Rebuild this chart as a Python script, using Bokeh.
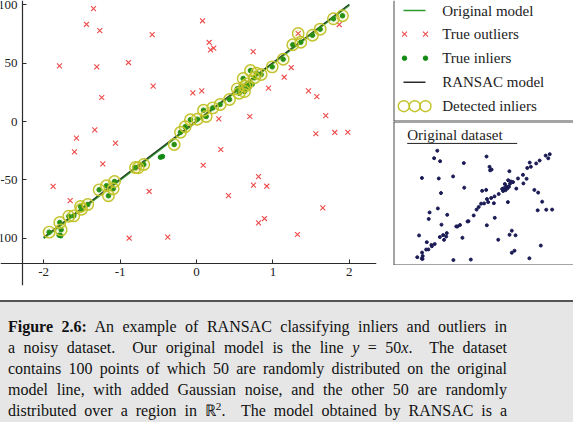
from bokeh.plotting import figure
from bokeh.models import Range1d, LinearAxis, FixedTicker, Span, Div
from bokeh.layouts import row, column
from bokeh.core.properties import value
from bokeh.embed import file_html
from bokeh.resources import INLINE

# --- data -------------------------------------------------------------------
# points drawn uniformly over the region (true outliers)
outlier_x = [-1.348, -1.440, -1.266, -0.580, -1.793, -1.305, -0.890, -0.567, -1.240, -0.048,
             0.069, -1.331, -1.571, 0.079, 0.166, 0.226, 0.183, 0.742, 1.331, 1.868,
             1.240, 1.148, 0.942, 1.466, 1.575, 0.292, 0.698, 1.692, 1.562, 1.810,
             1.980, -1.060, -1.597, -1.226, -1.876, -1.653, -0.619, -0.763, -0.881, -0.376,
             0.318, 0.088, 0.812, 0.746, 0.920, 0.419, 1.653, 0.890, 0.812, 1.322]
outlier_y = [96.9, 83.4, 78.0, 74.6, 47.8, 46.9, 50.6, 30.3, 20.6, 24.6,
             26.3, -7.1, -14.3, 86.4, 67.8, 62.9, 61.5, 60.0, 75.5, 83.2,
             46.3, 38.0, 28.6, 26.3, 21.4, 2.3, 4.3, 5.1, -10.5, -9.4,
             -9.2, -18.6, -26.0, -36.3, -55.7, -67.8, -60.0, -39.7, -100.1, -99.2,
             -24.0, -37.5, -47.2, -54.6, -55.5, -63.5, -74.0, -83.2, -86.9, -96.9]
outlier_detected = [0] * 18 + [1] + [0] * 18 + [1] + [0] * 12

# points on y = 50x with Gaussian noise (true inliers)
inlier_x = [1.911, 1.793, 1.619, 1.518, 1.365, 1.260, 1.135, 0.991, 0.847, 0.785,
            0.707, 0.759, 0.611, 0.664, 0.729, 0.632, 0.533, 0.685, 0.559, 0.628,
            0.576, 0.432, 0.310, 0.213, 0.092, 0.127, 0.009, -0.079, -0.148, -0.209,
            -0.292, -0.445, -0.471, -0.690, -0.798, -1.073, -1.090, -1.178, -1.152, -1.274,
            -1.423, -1.518, -1.505, -1.606, -1.671, -1.789, -1.771, -1.797, -1.776, -1.928]
inlier_y = [90.7, 88.1, 79.2, 74.0, 68.0, 65.8, 53.4, 46.9, 40.3, 41.4,
            43.7, 37.5, 36.9, 32.3, 32.0, 30.3, 28.0, 28.9, 24.3, 25.7,
            29.2, 18.9, 14.6, 11.7, 9.7, 4.3, 2.0, 1.5, -4.5, -9.2,
            -19.7, -30.0, -30.6, -36.9, -39.5, -51.5, -57.7, -55.1, -63.7, -58.6,
            -71.2, -72.9, -75.2, -80.9, -81.2, -86.6, -92.9, -97.5, -98.0, -94.9]
inlier_detected = [1, 1, 1, 1, 1, 1, 1, 1, 1, 1,
                   1, 1, 1, 1, 0, 1, 1, 0, 1, 1,
                   0, 1, 1, 1, 1, 1, 1, 1, 1, 1,
                   1, 0, 0, 1, 1, 1, 1, 1, 1, 1,
                   1, 1, 1, 1, 1, 1, 1, 0, 0, 1]

model_x = [-2.0, 2.0]
model_y = [-100.0, 100.0]
ransac_x = [-2.0, 2.0]
ransac_y = [-99.3, 100.5]

x_ticks = [-2, -1, 0, 1, 2]
y_ticks = [-100, -50, 0, 50, 100]

legend_labels = ["Original model", "True outliers", "True inliers", "RANSAC model", "Detected inliers"]
inset_title = "Original dataset"

# --- styling ------------------------------------------------------------------
SERIF = "Liberation Serif"
RED = "#ef4a4a"
GREEN = "#138a13"
LINE_GREEN = "#2e9a2e"
YELLOW = "#c2c22a"
DARK = "#2b2b2b"
NAVY = "#1b1b55"
BORDER = "#4a4a4a"

det_x = [x for x, d in zip(inlier_x, inlier_detected) if d] + \
        [x for x, d in zip(outlier_x, outlier_detected) if d]
det_y = [y for y, d in zip(inlier_y, inlier_detected) if d] + \
        [y for y, d in zip(outlier_y, outlier_detected) if d]


def bare(fig):
    fig.outline_line_color = None
    fig.background_fill_color = "white"
    fig.border_fill_color = "white"
    for g in fig.grid:
        g.visible = False
    return fig


# --- main scatter plot -----------------------------------------------------------
main = bare(figure(width=393, height=300,
                   x_range=Range1d(-2.565, 2.356), y_range=Range1d(-140.65, 103.8),
                   x_axis_location=None, y_axis_location=None,
                   min_border_left=0, min_border_right=17, min_border_top=0, min_border_bottom=15,
                   output_backend="svg", toolbar_location=None))

def style_axis(ax, ticks):
    ax.ticker = FixedTicker(ticks=ticks)
    # plain hyphen-minus labels
    ax.major_label_overrides = {t: str(t) for t in ticks}
    ax.axis_line_color = DARK
    ax.axis_line_width = 1.2
    ax.major_tick_line_color = DARK
    ax.major_tick_in = 4
    ax.major_tick_out = 0
    ax.minor_tick_in = 0
    ax.minor_tick_out = 0
    ax.major_label_text_font = SERIF
    ax.major_label_text_font_size = "13px"
    ax.major_label_text_color = "#222222"
    ax.major_label_standoff = 5

xaxis = LinearAxis(fixed_location=-121.5)
yaxis = LinearAxis(fixed_location=-2.277)
style_axis(xaxis, x_ticks)
style_axis(yaxis, y_ticks)
main.add_layout(xaxis, "below")
main.add_layout(yaxis, "left")

main.line(model_x, model_y, line_color=LINE_GREEN, line_width=2.2)
main.line(ransac_x, ransac_y, line_color=DARK, line_width=1.1, line_alpha=0.85)
main.scatter(outlier_x, outlier_y, marker="x", size=7, line_color=RED, line_width=1.1)
main.scatter(inlier_x, inlier_y, marker="circle", size=4.5, fill_color=GREEN, line_color=GREEN)
main.scatter(det_x, det_y, marker="circle", size=11.5, fill_color=YELLOW, fill_alpha=0.12,
             line_color=YELLOW, line_width=1.4)

# --- legend panel ---------------------------------------------------------------
leg = bare(figure(width=180, height=121, x_range=Range1d(0, 180), y_range=Range1d(121, 0),
                  x_axis_location=None, y_axis_location=None,
                  min_border_left=0, min_border_right=0, min_border_top=0, min_border_bottom=0,
                  output_backend="svg", toolbar_location=None))
leg.add_layout(Span(location=0, dimension="height", line_color=BORDER, line_width=2))
leg.add_layout(Span(location=121, dimension="width", line_color=BORDER, line_width=2))

rows = [10, 33.7, 57.7, 81.7, 105.7]
leg.segment(x0=[10], y0=[rows[0]], x1=[32], y1=[rows[0]], line_color=LINE_GREEN, line_width=1.5)
leg.scatter([11, 32], [rows[1]] * 2, marker="x", size=7, line_color=RED, line_width=1.1)
leg.scatter([11, 32], [rows[2]] * 2, marker="circle", size=4.5, fill_color=GREEN, line_color=GREEN)
leg.segment(x0=[10], y0=[rows[3]], x1=[32], y1=[rows[3]], line_color=DARK, line_width=1.5)
leg.scatter([10.3, 21.3, 32], [rows[4]] * 3, marker="circle", size=11, fill_color=None,
            line_color=YELLOW, line_width=1.4)
leg.text(x=[48.7] * 5, y=rows, text=legend_labels, text_font=value(SERIF),
         text_font_size="15px", text_baseline="middle", text_color="#222222")

# --- inset with the raw data -----------------------------------------------------------
ins = bare(figure(width=180, height=144, x_range=Range1d(-2.617, 2.6), y_range=Range1d(-109.9, 149.5),
                  x_axis_location=None, y_axis_location=None,
                  min_border_left=0, min_border_right=0, min_border_top=0, min_border_bottom=0,
                  output_backend="svg", toolbar_location=None))
ins.add_layout(Span(location=-2.617, dimension="height", line_color=BORDER, line_width=2))
ins.add_layout(Span(location=149.5, dimension="width", line_color=BORDER, line_width=2))
ins.add_layout(Span(location=-109.9, dimension="width", line_color=BORDER, line_width=2))
ins.scatter(outlier_x + inlier_x, outlier_y + inlier_y, marker="circle", size=3,
            fill_color=NAVY, line_color=NAVY)
ins.text(x=[-2.22], y=[124.3], text=[inset_title], text_font=value(SERIF),
         text_font_size="15px", text_baseline="middle", text_color="#222222")
ins.segment(x0=[-2.22], y0=[110.0], x1=[0.968], y1=[110.0], line_color="#222222", line_width=1)

# --- caption -------------------------------------------------------------------------
caption_lines = [
    "<b>Figure 2.6:</b> An example of RANSAC classifying inliers and outliers in",
    "a noisy dataset.&nbsp; Our original model is the line <i>y</i> = 50<i>x</i>.&nbsp; The dataset",
    "contains 100 points of which 50 are randomly distributed on the original",
    "model line, with added Gaussian noise, and the other 50 are randomly",
    "distributed over a region in &#8477;<sup style='font-size:0.7em;line-height:0;vertical-align:0.55em'>2</sup>.&nbsp; The model obtained by RANSAC is a",
]
line_style = "text-align:justify;text-align-last:justify;height:21px;margin:0;"
caption_html = (
    "<div style=\"box-sizing:border-box;width:573px;height:122px;overflow:hidden;margin:0;"
    "border-top:2px solid #555555;background:#e6e6e6;padding:14px 66px 0 8px;"
    f"font-family:'{SERIF}',serif;font-size:16px;line-height:21px;color:#111111;\">"
    + "".join(f"<div style=\"{line_style}\">{t}</div>" for t in caption_lines)
    + "</div>"
)
cap = Div(text=caption_html, width=573, height=122, margin=(0, 0, 0, 0),
          styles={"margin": "0", "padding": "0"})

layout = column(row(main, column(leg, ins)), cap)
open("out.html", "w").write(file_html(layout, INLINE))
